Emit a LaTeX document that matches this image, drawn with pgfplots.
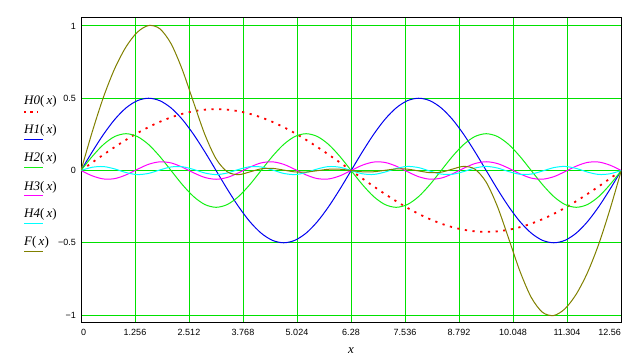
\documentclass[border=0pt]{standalone}
\usepackage{pgfplots}
\pgfplotsset{compat=1.18}
\usepackage{pgfplotstable}
\usepackage{fontspec}
\setmainfont{Liberation Sans}
\newfontfamily\seriffont{Liberation Serif}
\definecolor{gridgreen}{RGB}{0,225,0}
\definecolor{hzero}{RGB}{255,0,0}
\definecolor{hone}{RGB}{0,0,240}
\definecolor{htwo}{RGB}{20,240,20}
\definecolor{hthree}{RGB}{255,0,255}
\definecolor{hfour}{RGB}{0,255,255}
\definecolor{fcol}{RGB}{128,128,0}

\pgfplotstableread{
x H0 H1 H2 H3 H4 F
0 0 0 0 0 0 0
0.2618 0.0554 0.1294 0.0974 -0.0369 0.0225 0.2678
0.5236 0.1098 0.25 0.18 -0.0585 0.0273 0.5086
0.7854 0.1624 0.3536 0.2352 -0.0560 0.0108 0.7060
1.0472 0.2122 0.4330 0.2546 -0.0303 -0.0142 0.8553
1.3090 0.2584 0.4830 0.2352 0.0079 -0.0281 0.9564
1.5708 0.3001 0.5 0.18 0.0429 -0.0200 1.003
1.8326 0.3367 0.4830 0.0974 0.0601 0.0037 0.9809
2.0944 0.3675 0.4330 0 0.0525 0.0245 0.8775
2.3562 0.3921 0.3536 -0.0974 0.0232 0.0261 0.6976
2.6180 0.4099 0.25 -0.18 -0.0157 0.0073 0.4715
2.8798 0.4208 0.1294 -0.2352 -0.0481 -0.0172 0.2497
3.1416 0.4244 0 -0.2546 -0.0606 -0.0283 0.0809
3.4034 0.4208 -0.1294 -0.2352 -0.0481 -0.0172 -0.0091
3.6652 0.4099 -0.25 -0.18 -0.0157 0.0073 -0.0285
3.9270 0.3921 -0.3536 -0.0974 0.0232 0.0261 -0.0096
4.1888 0.3675 -0.4330 0 0.0525 0.0245 0.0115
4.4506 0.3367 -0.4830 0.0974 0.0601 0.0037 0.0149
4.7124 0.3001 -0.5 0.18 0.0429 -0.0200 0.0030
4.9742 0.2584 -0.4830 0.2352 0.0079 -0.0281 -0.0096
5.2360 0.2122 -0.4330 0.2546 -0.0303 -0.0142 -0.0107
5.4978 0.1624 -0.3536 0.2352 -0.0560 0.0108 -0.0012
5.7596 0.1098 -0.25 0.18 -0.0585 0.0273 0.0086
6.0214 0.0554 -0.1294 0.0974 -0.0369 0.0225 0.0090
6.2832 0 0 0 0 0 0
6.5450 -0.0554 0.1294 -0.0974 0.0369 -0.0225 -0.0090
6.8068 -0.1098 0.25 -0.18 0.0585 -0.0273 -0.0086
7.0686 -0.1624 0.3536 -0.2352 0.0560 -0.0108 0.0012
7.3304 -0.2122 0.4330 -0.2546 0.0303 0.0142 0.0107
7.5922 -0.2584 0.4830 -0.2352 -0.0079 0.0281 0.0096
7.8540 -0.3001 0.5 -0.18 -0.0429 0.0200 -0.0030
8.1158 -0.3367 0.4830 -0.0974 -0.0601 -0.0037 -0.0149
8.3776 -0.3675 0.4330 0 -0.0525 -0.0245 -0.0115
8.6394 -0.3921 0.3536 0.0974 -0.0232 -0.0261 0.0096
8.9012 -0.4099 0.25 0.18 0.0157 -0.0073 0.0285
9.1630 -0.4208 0.1294 0.2352 0.0481 0.0172 0.0091
9.4248 -0.4244 0 0.2546 0.0606 0.0283 -0.0809
9.6866 -0.4208 -0.1294 0.2352 0.0481 0.0172 -0.2497
9.9484 -0.4099 -0.25 0.18 0.0157 -0.0073 -0.4715
10.2102 -0.3921 -0.3536 0.0974 -0.0232 -0.0261 -0.6976
10.4720 -0.3675 -0.4330 0 -0.0525 -0.0245 -0.8775
10.7338 -0.3367 -0.4830 -0.0974 -0.0601 -0.0037 -0.9809
10.9956 -0.3001 -0.5 -0.18 -0.0429 0.0200 -1.003
11.2574 -0.2584 -0.4830 -0.2352 -0.0079 0.0281 -0.9564
11.5192 -0.2122 -0.4330 -0.2546 0.0303 0.0142 -0.8553
11.7810 -0.1624 -0.3536 -0.2352 0.0560 -0.0108 -0.7060
12.0428 -0.1098 -0.25 -0.18 0.0585 -0.0273 -0.5086
12.3046 -0.0554 -0.1294 -0.0974 0.0369 -0.0225 -0.2678
12.5664 0 0 0 0 0 0
}\datatable

\begin{document}
\begin{tikzpicture}[x=1pt,y=1pt]
\path[use as bounding box] (0,0) rectangle (641,357);
\begin{axis}[
  at={(81pt,35pt)}, anchor=south west,
  scale only axis, width=540pt, height=304pt,
  xmin=0, xmax=12.56, ymin=-1.048, ymax=1.055,
  xtick={0,1.256,2.512,3.768,5.024,6.28,7.536,8.792,10.048,11.304,12.56},
  xticklabels={\rlap{0},1.256,2.512,3.768,5.024,6.28,7.536,8.792,10.048,11.304,\llap{12.56}},
  ytick={-1,-0.5,0,0.5,1},
  yticklabels={−1,−0.5,0,0.5,1},
  grid=major,
  major grid style={gridgreen, line width=1pt},
  major tick length=0pt,
  axis line style={black, line width=1pt},
  tick label style={font=\fontsize{9}{10}\selectfont},
  xticklabel style={yshift=-3.5pt},
  yticklabel style={xshift=-1.7pt},
  xlabel={\seriffont\itshape x},
  xlabel style={at={(axis description cs:0.5,0)}, anchor=base, yshift=-31pt, inner sep=0pt, font=\fontsize{13}{14}\selectfont},
  clip=true,
  every axis plot/.append style={line width=1pt, smooth},
]
\addplot[hzero, line width=1.8pt, dash pattern=on 2.2pt off 5.5pt] table[x=x,y=H0] {\datatable};
\addplot[hone] table[x=x,y=H1] {\datatable};
\addplot[htwo] table[x=x,y=H2] {\datatable};
\addplot[hthree] table[x=x,y=H3] {\datatable};
\addplot[hfour] table[x=x,y=H4] {\datatable};
\addplot[fcol] table[x=x,y=F] {\datatable};
\end{axis}
% legend
\begin{scope}[every node/.style={anchor=base west, inner sep=0pt, font=\seriffont\fontsize{13}{14}\selectfont}]
\node at (24,252) {\textit{H0}(\,\textit{x})};
\draw[hzero, line width=1.8pt, dash pattern=on 2.2pt off 4.2pt] (24,244.7) -- (38,244.7);
\node at (24,223.7) {\textit{H1}(\,\textit{x})};
\draw[hone, line width=1pt] (24,217.7) -- (43,217.7);
\node at (24,195.3) {\textit{H2}(\,\textit{x})};
\draw[htwo, line width=1pt] (24,189.7) -- (43,189.7);
\node at (24,167) {\textit{H3}(\,\textit{x})};
\draw[hthree, line width=1pt] (24,161.7) -- (43,161.7);
\node at (24,139.3) {\textit{H4}(\,\textit{x})};
\draw[hfour, line width=1pt] (24,133.7) -- (43,133.7);
\node at (24,112) {\textit{F}(\,\textit{x})};
\draw[fcol, line width=1pt] (24,105.7) -- (43,105.7);
\end{scope}
\end{tikzpicture}
\end{document}
